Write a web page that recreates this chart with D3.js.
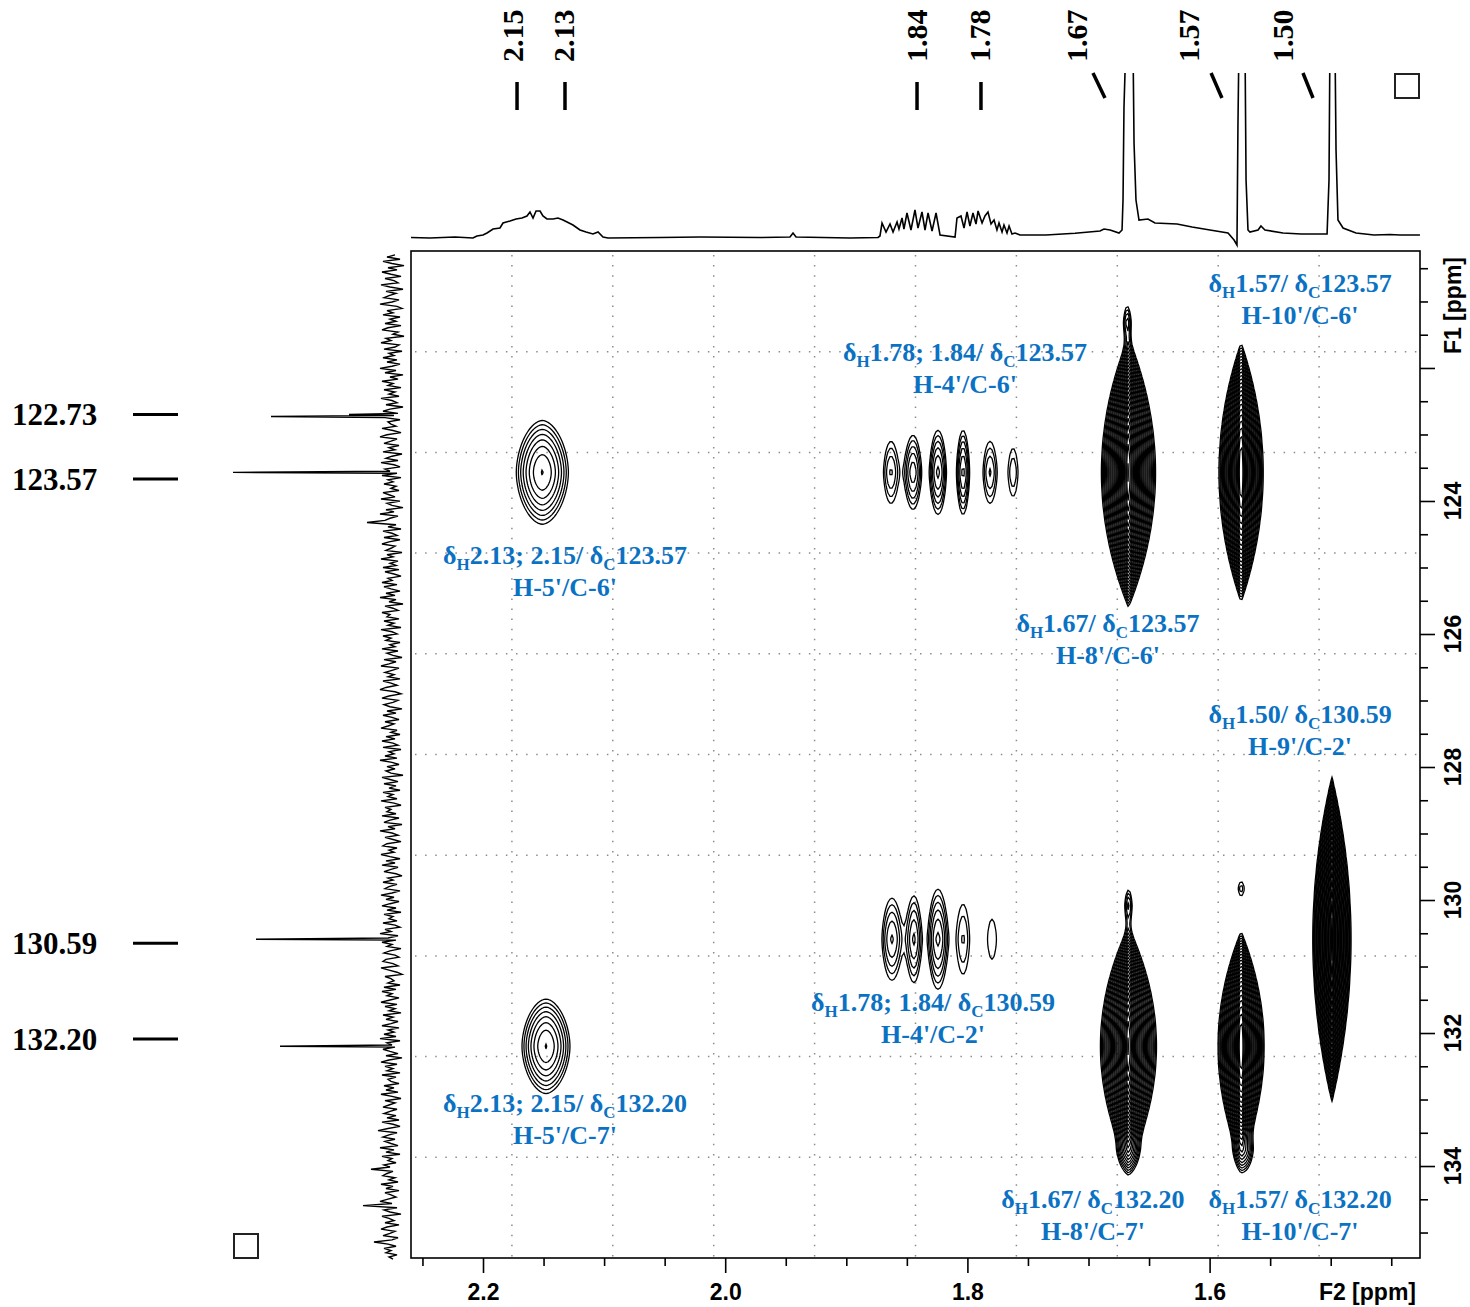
<!DOCTYPE html>
<html>
<head>
<meta charset="utf-8">
<script src="https://cdn.jsdelivr.net/npm/d3@7"></script>
<style>
  html, body { margin: 0; padding: 0; background: #fff; }
  svg { display: block; }
</style>
</head>
<body>
<svg id="chart" width="1470" height="1307"></svg>
<script>
// ---------- HMBC cross peaks (F2 = 1H, F1 = 13C, ppm) ----------
const cpF2    = [1.667, 1.574, 1.667, 1.574, 1.499, 1.668, 1.667, 1.667, 1.572, 1.5739,
                 2.151, 2.148,
                 1.8631, 1.8449, 1.8243, 1.8036, 1.7813, 1.7623,
                 1.8623, 1.8441, 1.8243, 1.8036, 1.7797];
const cpF1    = [123.57, 123.57, 132.20, 132.20, 130.59, 121.31, 130.08, 133.76, 133.76, 129.83,
                 123.57, 132.20,
                 123.57, 123.57, 123.57, 123.57, 123.57, 123.57,
                 130.59, 130.59, 130.59, 130.59, 130.59];
const cpAmp   = [300, 260, 300, 260, 300, 2, 2, 3, 3, 1.4,
                 4.8, 4.8,
                 2.0, 2.8, 3.2, 3.2, 2.0, 1.5,
                 2.5, 2.5, 3.2, 1.6, 1.2];
const cpHalfW = [0.0223, 0.0182, 0.0231, 0.0190, 0.0157, 0.0029, 0.0029, 0.0083, 0.0075, 0.0025,
                 0.0215, 0.0198,
                 0.0062, 0.0070, 0.0070, 0.0054, 0.0058, 0.0041,
                 0.0083, 0.0062, 0.0083, 0.0054, 0.0037];
const cpHalfH = [2.03, 1.95, 1.80, 1.73, 2.44, 0.226, 0.226, 0.30, 0.30, 0.105,
                 0.78, 0.71,
                 0.466, 0.556, 0.632, 0.632, 0.466, 0.361,
                 0.617, 0.647, 0.752, 0.526, 0.30];
const cpShape = ["lens", "lens", "lens", "lens", "lens", "ell", "ell", "ell", "ell", "ell",
                 "oval", "oval",
                 "ell", "ell", "ell", "ell", "ell", "ell",
                 "ell", "ell", "ell", "ell", "ell"];

// ---------- 1H projection (top trace) ----------
const topPpm = [2.2595, 2.2438, 2.2231, 2.2083, 2.2050, 2.2000, 2.1967, 2.1917, 2.1860, 2.1835,
  2.1777, 2.1727, 2.1678, 2.1637, 2.1612, 2.1587, 2.1562, 2.1529, 2.1505, 2.1472,
  2.1422, 2.1381, 2.1339, 2.1306, 2.1257, 2.1199, 2.1149, 2.1092, 2.1050, 2.1009,
  2.0968, 2.0538, 2.0208, 1.9713, 1.9465, 1.9440, 1.9415, 1.8969, 1.8738, 1.8722,
  1.8705, 1.8672, 1.8639, 1.8614, 1.8581, 1.8565, 1.8540, 1.8524, 1.8499, 1.8466,
  1.8433, 1.8408, 1.8375, 1.8350, 1.8325, 1.8292, 1.8259, 1.8226, 1.8102, 1.8086,
  1.8053, 1.8028, 1.8003, 1.7979, 1.7954, 1.7929, 1.7912, 1.7879, 1.7855, 1.7830,
  1.7805, 1.7780, 1.7756, 1.7739, 1.7714, 1.7698, 1.7673, 1.7656, 1.7632, 1.7607,
  1.7566, 1.7351, 1.7111, 1.6905, 1.6872, 1.6822, 1.6748, 1.6723, 1.6715, 1.6707,
  1.6690, 1.6633, 1.6624, 1.6608, 1.6583, 1.6509, 1.6451, 1.6269, 1.6145, 1.5997,
  1.5848, 1.5798, 1.5774, 1.5766, 1.5757, 1.5708, 1.5699, 1.5683, 1.5667, 1.5600,
  1.5576, 1.5543, 1.5394, 1.5245, 1.5030, 1.5014, 1.5006, 1.4965, 1.4956, 1.4940,
  1.4898, 1.4791, 1.4642, 1.4510, 1.4428, 1.4263];
const topInt = [0.5, 0, 1, 0, 2, 3, 5, 9, 10, 15,
  17, 19, 20, 22, 26, 20, 27, 27, 22, 19,
  19, 20, 18, 16, 13, 8, 6, 4, 6, 1,
  0, 0.5, 1, 0.5, 1, 5, 1, 0, 0.5, 2,
  15, 6, 14, 6, 16, 9, 20, 9, 25, 8,
  28, 10, 26, 8, 25, 7, 25, 3, 1, 20,
  22, 10, 26, 12, 25, 14, 27, 15, 22, 26,
  14, 18, 8, 15, 6, 13, 5, 12, 4, 5,
  3, 3, 4.7, 7, 9, 8, 5, 8, 38, 131,
  200, 200, 95, 38, 18, 19, 15, 14, 11, 8,
  5, -2, -7, 111, 200, 200, 58, 8, 6, 8,
  12, 8, 5, 4, 4, 58, 200, 200, 88, 18,
  10, 5, 3, 3.5, 3, 3];

// peak-pick labels on the 1H trace
const topPeakText  = ["2.15", "2.13", "1.84", "1.78", "1.67", "1.57", "1.50"];
const topLabelAt   = [2.1760, 2.1339, 1.8424, 1.7896, 1.7103, 1.6178, 1.5394];
const topTickFrom  = [2.1719, 2.1323, 1.8416, 1.7888, 1.6963, 1.5988, 1.5229];
const topTickTo    = [2.1719, 2.1323, 1.8416, 1.7888, 1.6864, 1.5898, 1.5146];

// ---------- 13C projection (left trace) ----------
const f1NoiseStart = 120.30, f1NoiseEnd = 135.40;
const f1Noise = [
  14,22,9,26,17,5,21,12,27,18, 8,24,15,11,28,19,6,23,13,20, 25,10,17,29,12,7,22,16,26,9,
  19,13,24,8,21,27,11,16,5,23, 18,28,10,14,25,7,20,15,26,12, 22,9,17,29,13,24,6,19,11,27,
  16,21,8,25,14,20,10,28,17,12, 23,6,19,26,11,15,24,9,21,18, 13,27,16,8,22,29,12,18,25,10,
  20,14,26,7,17,23,11,28,15,9, 24,19,12,27,8,21,16,25,13,18, 10,26,20,14,28,9,22,17,6,23,
  15,29,11,19,24,42,13,21,8,26, 17,12,25,9,20,27,14,18,23,7, 22,16,28,11,19,13,26,10,24,15,
  8,21,17,27,12,25,18,9,23,14, 29,13,20,6,24,16,11,27,19,22, 10,25,15,21,8,28,17,12,26,18,
  23,9,19,14,27,11,22,16,7,25, 13,20,28,10,17,24,15,21,9,26, 18,12,23,29,14,8,20,27,11,16,
  25,19,7,22,13,26,17,10,24,15, 21,28,12,18,9,23,14,27,16,11, 26,8,20,15,24,12,29,17,10,22,
  14,23,18,6,27,19,11,25,13,20, 9,26,16,21,12,28,15,8,24,18, 22,13,27,10,19,25,7,21,14,29,
  17,11,24,16,8,22,26,12,20,15, 28,19,9,23,14,27,11,18,25,13, 7,21,16,26,12,20,24,9,17,28,
  15,23,10,19,27,13,22,8,25,16, 20,12,26,14,9,24,18,29,11,21, 13,27,17,22,8,19,25,14,10,23,
  26,16,11,28,20,12,7,24,18,15, 21,9,25,13,27,17,22,10,19,28, 12,24,14,20,8,26,16,23,11,18,
  27,10,21,15,25,13,29,9,22,17, 14,26,19,11,23,7,20,28,12,24, 16,22,9,27,13,21,18,10,25,15,
  23,11,28,17,8,24,14,20,26,12, 19,25,13,22,10,27,16,9,21,31, 12,20,26,14,24,18,11,29,15,23,
  9,27,17,21,13,25,19,38,16,22, 26,14,20,11,28,16,23,10,24,18, 13,21,29,17,46,12,25,19,8,27,
  20,15,24,10,22,28,14,19,26,11, 17,35,21,13,25,18,23,12,20,16];
const f1PeakPpm = [122.70, 122.73, 123.57, 130.59, 132.20];
const f1PeakInt = [60, 138, 176, 153, 129];
const f1PeakText = ["122.73", "123.57", "130.59", "132.20"];
const f1LabelAt  = [122.70, 123.67, 130.65, 132.09];

// ---------- correlation annotations ----------
const annH = ["1.57", "1.78; 1.84", "2.13; 2.15", "1.67", "1.50", "1.78; 1.84", "2.13; 2.15", "1.67", "1.57"];
const annC = ["123.57", "123.57", "123.57", "123.57", "130.59", "130.59", "132.20", "132.20", "132.20"];
const annAssign = ["H-10'/C-6'", "H-4'/C-6'", "H-5'/C-6'", "H-8'/C-6'", "H-9'/C-2'",
                   "H-4'/C-2'", "H-5'/C-7'", "H-8'/C-7'", "H-10'/C-7'"];
const annF2 = [1.5253, 1.8020, 2.1323, 1.6839, 1.5253, 1.8284, 2.1323, 1.6963, 1.5253];
const annF1 = [120.72, 121.76, 124.81, 125.83, 127.20, 131.53, 133.05, 134.50, 134.50];

// ---------- axis ticks ----------
const f2MajorTicks = [2.2, 2.0, 1.8, 1.6];
const f2MinorTicks = [2.25, 2.15, 2.1, 2.05, 1.95, 1.9, 1.85, 1.75, 1.7, 1.65, 1.55, 1.5, 1.45];
const f1MajorTicks = [122, 124, 126, 128, 130, 132, 134];
const f1LabelTicks = [124, 126, 128, 130, 132, 134];
const f1MinorTicks = [120.5, 121, 121.5, 122.5, 123, 123.5, 124.5, 125, 125.5, 126.5, 127, 127.5,
                      128.5, 129, 129.5, 130.5, 131, 131.5, 132.5, 133, 133.5, 134.5, 135];

// ================= drawing =================
const svg = d3.select("#chart");
const plot = { left: 411, right: 1420, top: 251, bottom: 1258 };
const SERIF = "'Liberation Serif', 'Times New Roman', serif";
const SANS = "'Liberation Sans', Arial, sans-serif";
const BLUE = "#0b72c3";

const X = d3.scaleLinear().domain([2.25946, 1.42626]).range([plot.left, plot.right]);
const Y = d3.scaleLinear().domain([120.241, 135.383]).range([plot.top, plot.bottom]);

const defs = svg.append("defs");
defs.append("clipPath").attr("id", "plotClip").append("rect")
  .attr("x", plot.left).attr("y", plot.top)
  .attr("width", plot.right - plot.left).attr("height", plot.bottom - plot.top);
defs.append("clipPath").attr("id", "topClip").append("rect")
  .attr("x", plot.left).attr("y", 73)
  .attr("width", plot.right - plot.left).attr("height", 180);

// dotted grid: ten equal divisions of the frame
const grid = svg.append("g").attr("stroke", "#8c8c8c").attr("stroke-width", 1.5)
  .attr("stroke-dasharray", "1.5 8.6");
d3.range(1, 10).forEach(k => {
  const gx = plot.left + k * (plot.right - plot.left) / 10;
  const gy = plot.top + k * (plot.bottom - plot.top) / 10;
  grid.append("line").attr("x1", gx).attr("x2", gx).attr("y1", plot.top + 4).attr("y2", plot.bottom);
  grid.append("line").attr("y1", gy).attr("y2", gy).attr("x1", plot.left + 4).attr("x2", plot.right);
});

// ---- contour map ----
const cell = 2;
const nx = Math.ceil((plot.right - plot.left) / cell);
const ny = Math.ceil((plot.bottom - plot.top) / cell);
const field = new Float64Array(nx * ny);
const shapes = { lens: [1, 2], oval: [1.8, 1.8], ell: [2, 1.6] };

cpF2.forEach((f2, k) => {
  const A = cpAmp[k];
  const [pxp, pyp] = shapes[cpShape[k]];
  const k0 = Math.log(A);
  const cx = X(f2), cy = Y(cpF1[k]);
  const wx = Math.abs(X(f2 + cpHalfW[k]) - cx) / Math.pow(k0, 1 / pxp);
  const wy = Math.abs(Y(cpF1[k] + cpHalfH[k]) - cy) / Math.pow(k0, 1 / pyp);
  const kmax = Math.log(A / 0.02);
  const ex = wx * Math.pow(kmax, 1 / pxp), ey = wy * Math.pow(kmax, 1 / pyp);
  const i0 = Math.max(0, Math.floor((cx - ex - plot.left) / cell));
  const i1 = Math.min(nx - 1, Math.ceil((cx + ex - plot.left) / cell));
  const j0 = Math.max(0, Math.floor((cy - ey - plot.top) / cell));
  const j1 = Math.min(ny - 1, Math.ceil((cy + ey - plot.top) / cell));
  for (let j = j0; j <= j1; j++) {
    const v = Math.abs(plot.top + (j + 0.5) * cell - cy) / wy;
    const vy = Math.pow(v, pyp);
    for (let i = i0; i <= i1; i++) {
      const u = Math.abs(plot.left + (i + 0.5) * cell - cx) / wx;
      field[j * nx + i] += A * Math.exp(-Math.pow(u, pxp) - vy);
    }
  }
});

const levels = d3.range(26).map(i => Math.pow(1.25, i));
const contours = d3.contours().size([nx, ny]).thresholds(levels)(field);
const toPx = d3.geoTransform({
  point(x, y) { this.stream.point(plot.left + x * cell, plot.top + y * cell); }
});
const cpath = d3.geoPath(toPx);
svg.append("g").attr("clip-path", "url(#plotClip)")
  .selectAll("path").data(contours).join("path")
  .attr("d", cpath).attr("fill", "none").attr("stroke", "#000").attr("stroke-width", 1.3);

// ---- frame ----
svg.append("rect").attr("x", plot.left).attr("y", plot.top)
  .attr("width", plot.right - plot.left).attr("height", plot.bottom - plot.top)
  .attr("fill", "none").attr("stroke", "#000").attr("stroke-width", 1.6);

// ---- top 1H trace ----
const yTop = d3.scaleLinear().domain([0, 165]).range([238, 73]);
const topData = topPpm.map((p, i) => [p, topInt[i]]);
svg.append("path").datum(topData).attr("clip-path", "url(#topClip)")
  .attr("d", d3.line().x(d => X(d[0])).y(d => yTop(d[1])))
  .attr("fill", "none").attr("stroke", "#000").attr("stroke-width", 1.6);

// peak labels above the 1H trace
const topLab = svg.append("g");
topPeakText.forEach((t, i) => {
  topLab.append("text")
    .attr("transform", `translate(${X(topLabelAt[i])},62) rotate(-90)`)
    .attr("dominant-baseline", "central")
    .attr("font-family", SERIF).attr("font-weight", "bold").attr("font-size", 30)
    .text(t);
  const vertical = topTickFrom[i] === topTickTo[i];
  topLab.append("line")
    .attr("x1", X(topTickFrom[i])).attr("x2", X(topTickTo[i]))
    .attr("y1", vertical ? 82 : 73).attr("y2", vertical ? 110 : 98)
    .attr("stroke", "#000").attr("stroke-width", 3.5);
});

// ---- left 13C trace ----
const xLeft = d3.scaleLinear().domain([0, 180]).range([409, 229]);
const nStep = (f1NoiseEnd - f1NoiseStart) / (f1Noise.length - 1);
const leftData = f1Noise.map((v, i) => [f1NoiseStart + i * nStep, v])
  .concat(f1PeakPpm.map((p, i) => [p, f1PeakInt[i]]))
  .sort((a, b) => a[0] - b[0]);
svg.append("path").datum(leftData)
  .attr("d", d3.line().x(d => xLeft(d[1])).y(d => Y(d[0])))
  .attr("fill", "none").attr("stroke", "#000").attr("stroke-width", 1.4);

const leftLab = svg.append("g");
f1PeakText.forEach((t, i) => {
  leftLab.append("text").attr("x", 12).attr("y", Y(f1LabelAt[i]))
    .attr("dominant-baseline", "central")
    .attr("font-family", SERIF).attr("font-weight", "bold").attr("font-size", 31)
    .text(t);
  leftLab.append("line").attr("x1", 133).attr("x2", 178)
    .attr("y1", Y(f1LabelAt[i])).attr("y2", Y(f1LabelAt[i]))
    .attr("stroke", "#000").attr("stroke-width", 3);
});

// ---- axes ----
const axStyle = g => g.call(s => s.select(".domain").remove())
  .call(s => s.selectAll("line").attr("stroke", "#000").attr("stroke-width", 1.6))
  .attr("font-family", SANS).attr("font-weight", "bold").attr("font-size", 23);

svg.append("g").attr("transform", `translate(0,${plot.bottom})`)
  .call(d3.axisBottom(X).tickValues(f2MinorTicks).tickSize(8).tickFormat(""))
  .call(axStyle);
svg.append("g").attr("transform", `translate(0,${plot.bottom})`)
  .call(d3.axisBottom(X).tickValues(f2MajorTicks).tickSize(15).tickPadding(11).tickFormat(d3.format(".1f")))
  .call(axStyle)
  .call(g => g.selectAll("text").attr("fill", "#000"));
svg.append("text").attr("x", plot.right - 4).attr("y", 1300)
  .attr("text-anchor", "end")
  .attr("font-family", SANS).attr("font-weight", "bold").attr("font-size", 23)
  .text("F2 [ppm]");

svg.append("g").attr("transform", `translate(${plot.right},0)`)
  .call(d3.axisRight(Y).tickValues(f1MinorTicks).tickSize(8).tickFormat(""))
  .call(axStyle);
svg.append("g").attr("transform", `translate(${plot.right},0)`)
  .call(d3.axisRight(Y).tickValues(f1MajorTicks).tickSize(15).tickFormat(""))
  .call(axStyle);
const rLab = svg.append("g").attr("font-family", SANS).attr("font-weight", "bold").attr("font-size", 23);
f1LabelTicks.forEach(v => {
  rLab.append("text").attr("transform", `translate(1453,${Y(v)}) rotate(-90)`)
    .attr("text-anchor", "middle").attr("dominant-baseline", "central").text(v);
});
rLab.append("text").attr("transform", `translate(1453,${plot.top + 6}) rotate(-90)`)
  .attr("text-anchor", "end").attr("dominant-baseline", "central").text("F1 [ppm]");

// ---- correlation annotations ----
const ann = svg.append("g").attr("fill", BLUE).attr("font-family", SERIF)
  .attr("font-weight", "bold").attr("font-size", 26).attr("text-anchor", "middle");
annH.forEach((h, i) => {
  const ax = X(annF2[i]), ay = Y(annF1[i]) + 9;
  const t = ann.append("text").attr("x", ax).attr("y", ay);
  t.append("tspan").text("δ");
  t.append("tspan").attr("font-size", 17).attr("dy", 6).text("H");
  t.append("tspan").attr("dy", -6).text(h + "/ δ");
  t.append("tspan").attr("font-size", 17).attr("dy", 6).text("C");
  t.append("tspan").attr("dy", -6).text(annC[i]);
  ann.append("text").attr("x", ax).attr("y", ay + 32).text(annAssign[i]);
});

// ---- corner boxes ----
[[1395, 74], [234, 1234]].forEach(([bx, by]) => {
  svg.append("rect").attr("x", bx).attr("y", by).attr("width", 24).attr("height", 24)
    .attr("fill", "none").attr("stroke", "#222").attr("stroke-width", 2);
});
</script>
</body>
</html>
